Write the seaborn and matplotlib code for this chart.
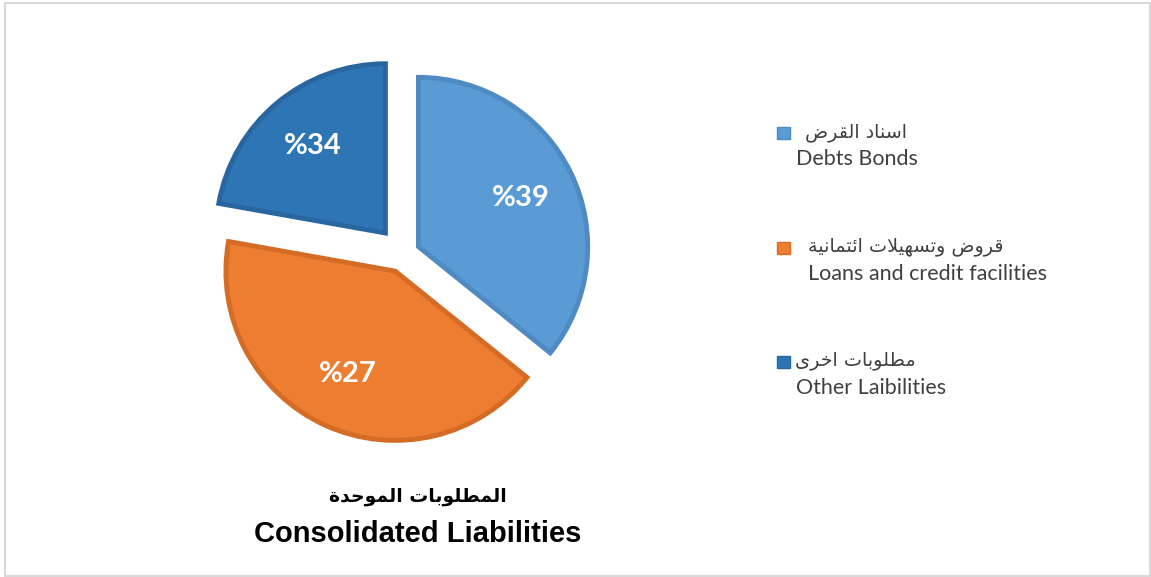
import matplotlib
matplotlib.use('Agg')
import matplotlib.pyplot as plt
import matplotlib.patches as mpatches
import seaborn as sns

# data
categories_ar = ['اسناد القرض', 'قروض وتسهيلات ائتمانية', 'مطلوبات اخرى']
categories_en = ['Debts Bonds', 'Loans and credit facilities', 'Other Laibilities']
slice_shares = [35.8, 42.0, 22.2]          # slice sizes as drawn
slice_labels = ['%39', '%27', '%34']        # labels as printed on the slices
title_ar = 'المطلوبات الموحدة'
title_en = 'Consolidated Liabilities'

colors = ['#5B9BD5', '#ED7D31', '#2E75B6']
edges = ['#4F8AC2', '#D46C26', '#2966A0']
explode = [0.10, 0.11, 0.16]

# minimal arabic shaping (no reshaper package available)
AR = {'ا': (0xFE8D, 2), 'ب': (0xFE8F, 4), 'ة': (0xFE93, 2), 'ت': (0xFE95, 4),
      'ح': (0xFEA1, 4), 'خ': (0xFEA5, 4), 'د': (0xFEA9, 2), 'ر': (0xFEAD, 2),
      'س': (0xFEB1, 4), 'ض': (0xFEBD, 4), 'ط': (0xFEC1, 4), 'ق': (0xFED5, 4),
      'ل': (0xFEDD, 4), 'م': (0xFEE1, 4), 'ن': (0xFEE5, 4), 'ه': (0xFEE9, 4),
      'و': (0xFEED, 2), 'ى': (0xFEEF, 2), 'ي': (0xFEF1, 4), 'ئ': (0xFE89, 4)}


def shape_ar(text):
    out = []
    i, n = 0, len(text)
    while i < n:
        c = text[i]
        if c not in AR:
            out.append(c)
            i += 1
            continue
        prev = text[i - 1] if i > 0 else ' '
        joins_prev = prev in AR and AR[prev][1] == 4
        if c == 'ل' and i + 1 < n and text[i + 1] == 'ا':
            out.append(chr(0xFEFC if joins_prev else 0xFEFB))
            i += 2
            continue
        nxt = text[i + 1] if i + 1 < n else ' '
        joins_next = AR[c][1] == 4 and nxt in AR
        base = AR[c][0]
        if joins_prev and joins_next:
            g = base + 3
        elif joins_prev:
            g = base + 1
        elif joins_next:
            g = base + 2
        else:
            g = base
        out.append(chr(g))
        i += 1
    return ''.join(reversed(out))


sns.set_theme(style='white')
plt.rcParams['font.family'] = ['DejaVu Sans']

W, H = 1151, 577
fig = plt.figure(figsize=(W / 100, H / 100), dpi=100)

# light frame around the chart area
fig.add_artist(mpatches.Rectangle((5 / W, 1 / H), 1145 / W, 573 / H,
                                  transform=fig.transFigure, fill=False,
                                  edgecolor='#D9D9D9', linewidth=1.5))

# pie axes: centre at (403, 254) px, radius 171 px
R = 171.0
ax = fig.add_axes([203 / W, (H - 254 - 200) / H, 400 / W, 400 / H])
it = iter(slice_labels)
wedges, texts, autotexts = ax.pie(
    slice_shares, colors=colors, explode=explode, startangle=90,
    counterclock=False, radius=0.99, autopct=lambda p: next(it),
    pctdistance=0.67,
    textprops=dict(color='white', fontsize=21, fontweight='bold',
                   family=['Lato', 'DejaVu Sans']))
for w, ec in zip(wedges, edges):
    w.set_edgecolor(ec)
    w.set_linewidth(3.5)
ax.set_xlim(-200 / R, 200 / R)
ax.set_ylim(-200 / R, 200 / R)
ax.set_aspect('equal')
ax.axis('off')


def fx(x):
    return x / W


def fy(y):
    return 1 - y / H


# legend
sq_y = [133, 248, 362]
ar_x = [805, 808, 795]
en_x = [796, 808, 796]
for i in range(len(categories_ar)):
    fig.add_artist(mpatches.Rectangle((fx(777), fy(sq_y[i] + 6)), 13 / W, 12 / H,
                                      transform=fig.transFigure,
                                      facecolor=colors[i], edgecolor=edges[i],
                                      linewidth=1))
    fig.text(fx(ar_x[i]), fy(sq_y[i] - 1), shape_ar(categories_ar[i]),
             ha='left', va='center', fontsize=13.8, color='#404040',
             family=['DejaVu Sans'])
    fig.text(fx(en_x[i]), fy(sq_y[i] + 26), categories_en[i],
             ha='left', va='center', fontsize=15.5, color='#404040',
             family=['Lato', 'DejaVu Sans'])

# title under the pie
fig.text(fx(418), fy(497), shape_ar(title_ar), ha='center', va='center',
         fontsize=13.5, fontweight='bold', color='black', family=['DejaVu Sans'])
fig.text(fx(418), fy(534), title_en, ha='center', va='center',
         fontsize=21, fontweight='bold', color='black',
         family=['Liberation Sans', 'DejaVu Sans'])

fig.savefig('out.png', dpi=100)
